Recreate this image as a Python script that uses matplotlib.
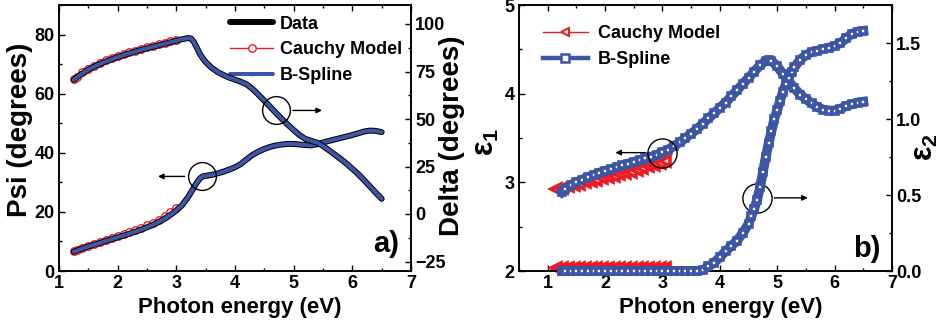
import matplotlib
matplotlib.use("Agg")
import matplotlib.pyplot as plt
from matplotlib.lines import Line2D
from matplotlib.ticker import MultipleLocator, FormatStrFormatter

plt.rcParams['font.family'] = ['Liberation Sans', 'DejaVu Sans']
plt.rcParams['font.weight'] = 'bold'
plt.rcParams['mathtext.fontset'] = 'custom'
plt.rcParams['mathtext.rm'] = 'Liberation Sans:bold'
plt.rcParams['mathtext.bf'] = 'Liberation Sans:bold'
plt.rcParams['mathtext.default'] = 'bf'

BLUE = '#3C55A5'
RED = '#ED1C24'

# ---- panel a: ellipsometric angles ----
energy_a = [1.25, 1.3, 1.4, 1.5, 1.6, 1.7, 1.8, 1.9, 2.0, 2.1, 2.2, 2.3, 2.4, 2.5, 2.6, 2.7,
            2.8, 2.9, 3.0, 3.1, 3.2, 3.25, 3.3, 3.35, 3.4, 3.45, 3.5, 3.6, 3.7, 3.8, 3.9, 4.0,
            4.1, 4.2, 4.3, 4.4, 4.5, 4.6, 4.7, 4.8, 4.9, 5.0, 5.1, 5.2, 5.3, 5.4, 5.5, 5.6,
            5.7, 5.8, 5.9, 6.0, 6.1, 6.2, 6.3, 6.4, 6.5]
psi_data = [6.5, 6.9, 7.6, 8.3, 8.9, 9.5, 10.2, 10.8, 11.4, 12.0, 12.6, 13.3, 14.0, 14.8, 15.6, 16.6,
            17.7, 19.0, 20.5, 22.3, 25.0, 26.6, 28.3, 29.9, 31.3, 32.0, 32.2, 32.5, 33.0, 33.6, 34.3, 35.1,
            36.2, 37.8, 39.3, 40.4, 41.3, 42.0, 42.5, 42.8, 43.0, 43.0, 42.8, 42.6, 42.5, 42.9, 43.5, 44.0,
            44.5, 45.0, 45.5, 46.0, 46.6, 47.2, 47.5, 47.4, 47.0]
delta_data = [70.6, 71.8, 74.0, 76.0, 77.6, 79.0, 80.3, 81.5, 82.6, 83.6, 84.6, 85.5, 86.4, 87.2, 88.0, 88.8,
              89.6, 90.4, 91.2, 92.0, 92.6, 92.4, 90.5, 87.5, 84.3, 82.0, 80.0, 77.0, 74.8, 73.2, 71.8, 70.7,
              69.6, 68.2, 65.8, 62.8, 59.6, 56.4, 53.1, 50.0, 47.0, 44.2, 41.5, 39.5, 38.5, 37.5, 35.8, 33.6,
              31.3, 29.0, 26.5, 23.8, 21.0, 17.8, 14.5, 11.2, 8.0]

energy_cauchy_a = [1.25, 1.3, 1.4, 1.5, 1.6, 1.7, 1.8, 1.9, 2.0, 2.1, 2.2, 2.3, 2.4, 2.5, 2.6, 2.7,
                   2.8, 2.9, 3.0]
psi_cauchy = [6.6, 7.0, 7.8, 8.5, 9.2, 9.8, 10.5, 11.1, 11.8, 12.4, 13.1, 13.8, 14.6, 15.4, 16.3, 17.3,
              18.5, 19.8, 21.3]
delta_cauchy = [71.0, 72.3, 74.5, 76.5, 78.1, 79.5, 80.8, 82.0, 83.1, 84.1, 85.1, 86.0, 86.9, 87.7, 88.5, 89.3,
                90.1, 90.8, 91.5]

# ---- panel b: dielectric function ----
energy_cauchy_b = [1.15, 1.25, 1.35, 1.45, 1.55, 1.65, 1.75, 1.85, 1.95, 2.05, 2.15, 2.25, 2.35, 2.45,
                   2.55, 2.65, 2.75, 2.85, 2.95, 3.05]
eps1_cauchy = [2.93, 2.94, 2.955, 2.97, 2.985, 3.0, 3.015, 3.03, 3.045, 3.06, 3.075, 3.09, 3.105, 3.12,
               3.14, 3.16, 3.18, 3.20, 3.22, 3.24]
eps2_cauchy = [0.02, 0.02, 0.02, 0.02, 0.02, 0.02, 0.02, 0.02, 0.02, 0.02, 0.02, 0.02, 0.02, 0.02,
               0.02, 0.02, 0.02, 0.02, 0.02, 0.02]

energy_eps1 = [1.25, 1.3, 1.4, 1.5, 1.6, 1.7, 1.8, 1.9, 2.0, 2.1, 2.2, 2.3, 2.4, 2.5, 2.6, 2.7, 2.8,
               2.9, 3.0, 3.1, 3.2, 3.3, 3.4, 3.5, 3.6, 3.7, 3.8, 3.9, 4.0, 4.1, 4.2, 4.3, 4.4, 4.5,
               4.6, 4.7, 4.8, 4.85, 4.9, 5.0, 5.1, 5.2, 5.3, 5.4, 5.5, 5.6, 5.7, 5.8, 5.9, 6.0, 6.1,
               6.2, 6.3, 6.4, 6.5]
eps1_spline = [2.89, 2.92, 2.97, 3.00, 3.03, 3.06, 3.08, 3.11, 3.13, 3.15, 3.17, 3.19, 3.21, 3.23, 3.25,
               3.27, 3.29, 3.31, 3.34, 3.37, 3.41, 3.45, 3.50, 3.55, 3.60, 3.66, 3.72, 3.78, 3.84, 3.90,
               3.97, 4.04, 4.11, 4.18, 4.25, 4.32, 4.37, 4.38, 4.37, 4.31, 4.22, 4.14, 4.06, 3.99, 3.94,
               3.89, 3.85, 3.82, 3.81, 3.81, 3.83, 3.86, 3.88, 3.90, 3.91]

energy_eps2 = [1.25, 1.3, 1.4, 1.5, 1.6, 1.7, 1.8, 1.9, 2.0, 2.1, 2.2, 2.3, 2.4, 2.5, 2.6, 2.7, 2.8,
               2.9, 3.0, 3.1, 3.2, 3.3, 3.4, 3.5, 3.6, 3.7, 3.8, 3.9, 4.0, 4.1, 4.2, 4.3, 4.4, 4.5,
               4.55, 4.6, 4.65, 4.7, 4.75, 4.8, 4.85, 4.9, 4.95, 5.0, 5.05, 5.1, 5.15, 5.2, 5.25, 5.3,
               5.4, 5.5, 5.6, 5.7, 5.8, 5.9, 6.0, 6.1, 6.2, 6.3, 6.4, 6.5]
eps2_spline = [0.0, 0.0, 0.0, 0.0, 0.0, 0.0, 0.0, 0.0, 0.0, 0.0, 0.0, 0.0, 0.0, 0.0, 0.0, 0.0, 0.0,
               0.0, 0.0, 0.0, 0.0, 0.0, 0.0, 0.0, 0.0, 0.005, 0.03, 0.055, 0.09, 0.13, 0.165, 0.2, 0.25, 0.31,
               0.36, 0.41, 0.47, 0.55, 0.65, 0.75, 0.84, 0.92, 1.0, 1.06, 1.12, 1.18, 1.23, 1.27, 1.31, 1.34,
               1.39, 1.42, 1.44, 1.45, 1.46, 1.47, 1.48, 1.50, 1.53, 1.56, 1.575, 1.58]

fig = plt.figure(figsize=(9.46, 3.25), dpi=100)
W, H = 946.0, 325.0


def px_axes(x0, y0, x1, y1):
    return fig.add_axes([x0 / W, 1 - y1 / H, (x1 - x0) / W, (y1 - y0) / H])


def style_ticks(ax):
    ax.tick_params(which='both', direction='in', labelsize=13, width=1)
    ax.tick_params(which='major', length=4.5, pad=3)
    ax.tick_params(which='minor', length=2.5)
    for s in ax.spines.values():
        s.set_linewidth(1.2)


# ================= panel a =================
axa = px_axes(59, 5, 411, 271)
axa2 = axa.twinx()

axa.plot(energy_cauchy_a, psi_cauchy, color=RED, lw=1, marker='o', ms=5.4, mfc='white', mec=RED,
         mew=1, label='Cauchy Model', zorder=2)
axa.plot(energy_a, psi_data, color='black', lw=4.3, solid_capstyle='round', label='Data', zorder=3)
axa.plot(energy_a, psi_data, color=BLUE, lw=2.9, solid_capstyle='round', marker='|', ms=3,
         markevery=[len(energy_a) // 2], label='B-Spline', zorder=4)

axa2.plot(energy_cauchy_a, delta_cauchy, color=RED, lw=1, marker='o', ms=5.4, mfc='white', mec=RED,
          mew=1, zorder=2)
axa2.plot(energy_a, delta_data, color='black', lw=4.3, solid_capstyle='round', zorder=3)
axa2.plot(energy_a, delta_data, color=BLUE, lw=2.9, solid_capstyle='round', zorder=4)

axa.set_xlim(1, 7)
axa.set_ylim(0, 90)
axa2.set_ylim(-30, 110)
axa.xaxis.set_major_locator(MultipleLocator(1))
axa.xaxis.set_minor_locator(MultipleLocator(0.5))
axa.yaxis.set_major_locator(MultipleLocator(20))
axa.yaxis.set_minor_locator(MultipleLocator(10))
axa2.yaxis.set_major_locator(MultipleLocator(25))
axa2.yaxis.set_minor_locator(MultipleLocator(12.5))
style_ticks(axa)
style_ticks(axa2)
axa.tick_params(which='both', top=True, right=False)

# circles and arrows
axa2.plot([4.70], [54.5], marker='o', ms=20, mfc='none', mec='black', mew=1, zorder=6)
axa2.annotate('', xy=(5.53, 54.5), xytext=(4.94, 54.5),
              arrowprops=dict(arrowstyle='-|>', color='black', lw=1, mutation_scale=8))
axa.plot([3.43], [32.0], marker='o', ms=20, mfc='none', mec='black', mew=1, zorder=6)
axa.annotate('', xy=(2.64, 32.0), xytext=(3.19, 32.0),
             arrowprops=dict(arrowstyle='-|>', color='black', lw=1, mutation_scale=8))

h, l = axa.get_legend_handles_labels()
order = [1, 0, 2]
axa.legend([h[i] for i in order], [l[i] for i in order], loc='upper left',
           bbox_to_anchor=(0.486, 0.96), frameon=False, fontsize=13, borderpad=0,
           borderaxespad=0, handlelength=2.4, handletextpad=0.35, labelspacing=0.48)

axa.text(0.93, 0.10, 'a)', transform=axa.transAxes, fontsize=21, ha='center', va='center')

fig.text(20 / W, 1 - 130 / H, 'Psi (degrees)', rotation=90, ha='center', va='center', fontsize=20)
fig.text(452 / W, 1 - 136 / H, 'Delta (degrees)', rotation=90, ha='center', va='center', fontsize=20)
fig.text(240 / W, 1 - 307 / H, 'Photon energy (eV)', ha='center', va='center', fontsize=16)

# ================= panel b =================
axb = px_axes(519, 5, 892, 271)
axb2 = axb.twinx()

axb.plot(energy_cauchy_b, eps1_cauchy, color=RED, lw=1, marker='<', ms=7, mfc='white', mec=RED,
         mew=2.6, zorder=2)
axb.plot(energy_eps1, eps1_spline, color=BLUE, lw=7, marker='s', ms=4.5, mfc='white', mec=BLUE,
         mew=2.6, zorder=3)
axb2.plot(energy_cauchy_b, eps2_cauchy, color=RED, lw=1, marker='<', ms=7, mfc='white', mec=RED,
          mew=2.6, zorder=2, clip_on=False)
axb2.plot(energy_eps2, eps2_spline, color=BLUE, lw=7, marker='s', ms=4.5, mfc='white', mec=BLUE,
          mew=2.6, zorder=3, clip_on=False)

axb.set_xlim(0.5, 7)
axb.set_ylim(2, 5)
axb2.set_ylim(0, 1.75)
axb.xaxis.set_major_locator(MultipleLocator(1))
axb.xaxis.set_minor_locator(MultipleLocator(0.5))
axb.yaxis.set_major_locator(MultipleLocator(1))
axb.yaxis.set_minor_locator(MultipleLocator(0.5))
axb2.yaxis.set_major_locator(MultipleLocator(0.5))
axb2.yaxis.set_minor_locator(MultipleLocator(0.25))
axb2.yaxis.set_major_formatter(FormatStrFormatter('%.1f'))
style_ticks(axb)
style_ticks(axb2)
axb.tick_params(which='both', top=True, right=False)

axb.plot([3.0], [3.335], marker='o', ms=21, mfc='none', mec='black', mew=1, zorder=6)
axb.annotate('', xy=(2.13, 3.335), xytext=(2.75, 3.335),
             arrowprops=dict(arrowstyle='-|>', color='black', lw=1, mutation_scale=8))
axb.plot([4.65], [2.825], marker='o', ms=21, mfc='none', mec='black', mew=1, zorder=6)
axb.annotate('', xy=(5.58, 2.825), xytext=(4.90, 2.825),
             arrowprops=dict(arrowstyle='-|>', color='black', lw=1, mutation_scale=8))

# legend keys drawn thinner than the dense marker bands
legend_b = [Line2D([], [], color=RED, lw=1, marker='<', ms=6, mfc='white', mec=RED, mew=1.5),
            Line2D([], [], color=BLUE, lw=3.2, marker='s', ms=5.5, mfc='white', mec=BLUE, mew=1.8)]
axb.legend(legend_b, ['Cauchy Model', 'B-Spline'], loc='upper left',
           bbox_to_anchor=(0.064, 0.925), frameon=False, fontsize=13,
           borderpad=0, borderaxespad=0, handlelength=2.5, handletextpad=0.55, labelspacing=0.5)

axb.text(0.933, 0.083, 'b)', transform=axb.transAxes, fontsize=21, ha='center', va='center')

fig.text(486 / W, 1 - 142 / H, r'ε$_\mathbf{1}$', rotation=90, ha='center', va='center', fontsize=22)
fig.text(925 / W, 1 - 147 / H, r'ε$_\mathbf{2}$', rotation=90, ha='center', va='center', fontsize=22)
fig.text(721 / W, 1 - 307 / H, 'Photon energy (eV)', ha='center', va='center', fontsize=16)

fig.savefig('out.png', dpi=100)
